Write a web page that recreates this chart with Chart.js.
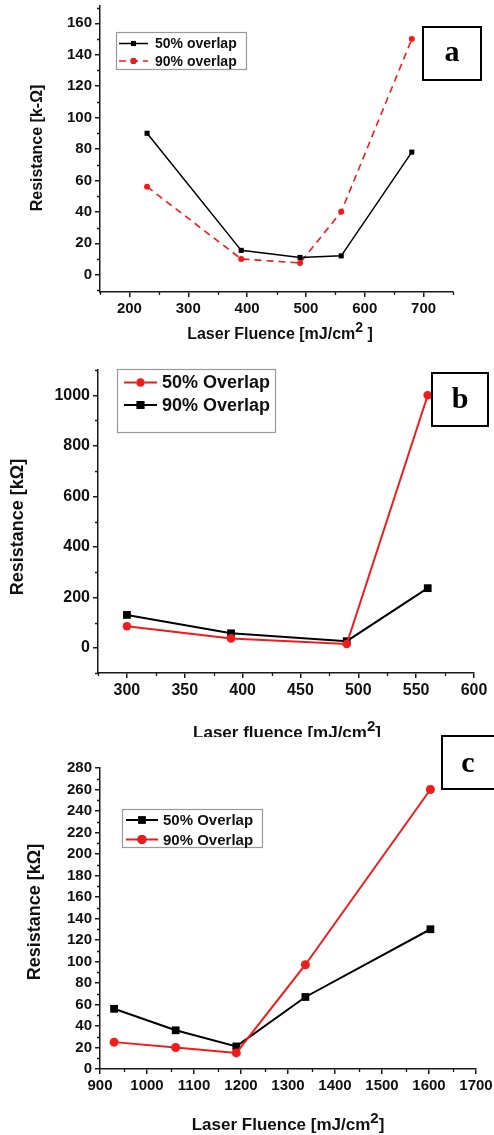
<!DOCTYPE html>
<html>
<head>
<meta charset="utf-8">
<script src="https://cdn.jsdelivr.net/npm/chart.js@4/dist/chart.umd.min.js"></script>
<style>
  html, body { margin: 0; padding: 0; background: #fff; }
  body { width: 494px; height: 1135px; position: relative; overflow: hidden; }
  .panel { position: absolute; left: 0; width: 494px; }
  .panel canvas { display: block; }
</style>
</head>
<body>
<div class="panel" id="pa" style="top:0;height:345px;"><canvas id="ca"></canvas></div>
<div class="panel" id="pb" style="top:345px;height:392px;"><canvas id="cb"></canvas></div>
<div class="panel" id="pc" style="top:733px;height:402px;"><canvas id="cc"></canvas></div>
<script>
// ---------- Panel a ----------
const fluenceA = [230, 390, 490, 560, 680];
const overlap50A = [90, 15.5, 11, 12, 78];
const overlap90A = [56, 10, 7.5, 40, 150];
const xTicksA = [200, 300, 400, 500, 600, 700];
const yTicksA = [0, 20, 40, 60, 80, 100, 120, 140, 160];

// ---------- Panel b ----------
const fluenceB = [300, 390, 490, 560];
const overlap50B = [85, 37, 15, 1000];
const overlap90B = [130, 57, 26, 236];
const xTicksB = [300, 350, 400, 450, 500, 550, 600];
const yTicksB = [0, 200, 400, 600, 800, 1000];

// ---------- Panel c ----------
const fluenceC = [930, 1061, 1190, 1337, 1603];
const overlap50C = [56, 36, 21, 67, 130];
const overlap90C = [25, 20, 15, 97, 260];
const xTicksC = [900, 1000, 1100, 1200, 1300, 1400, 1500, 1600, 1700];
const yTicksC = [0, 20, 40, 60, 80, 100, 120, 140, 160, 180, 200, 220, 240, 260, 280];

const SANS = '"Liberation Sans", Arial, sans-serif';
const SERIF = '"Liberation Serif", "Times New Roman", serif';
const AXIS = '#1a1a1a';

function pts(xs, ys) { return xs.map((x, i) => ({ x: x, y: ys[i] })); }

function minorValues(ticks, min, max) {
  const step = (ticks[1] - ticks[0]) / 2;
  const out = [];
  let v = ticks[0];
  while (v - step >= min - 1e-9) v -= step;
  for (; v <= max + 1e-9; v += step) {
    if (!ticks.some(t => Math.abs(t - v) < 1e-9)) out.push(v);
  }
  return out;
}

const deco = {
  id: 'deco',
  beforeDraw(chart, args, o) {
    const ctx = chart.ctx;
    ctx.save();
    ctx.fillStyle = '#fff';
    const top = o.bgTop || 0;
    ctx.fillRect(0, top, chart.width, chart.height - top);
    ctx.restore();
  },
  afterDraw(chart, args, o) {
    const ctx = chart.ctx;
    const xs = chart.scales.x, ys = chart.scales.y;
    ctx.save();
    // minor ticks
    ctx.strokeStyle = AXIS;
    ctx.lineWidth = 1.3;
    ctx.beginPath();
    minorValues(o.xTicks, xs.min, xs.max).forEach(v => {
      const px = Math.round(xs.getPixelForValue(v)) + 0.5;
      ctx.moveTo(px, chart.chartArea.bottom);
      ctx.lineTo(px, chart.chartArea.bottom + 3);
    });
    minorValues(o.yTicks, ys.min, ys.max).forEach(v => {
      const py = Math.round(ys.getPixelForValue(v)) + 0.5;
      ctx.moveTo(chart.chartArea.left, py);
      ctx.lineTo(chart.chartArea.left - 3, py);
    });
    ctx.stroke();

    ctx.fillStyle = '#111';
    // y title
    ctx.save();
    ctx.translate(o.yTitle.x, o.yTitle.y);
    ctx.rotate(-Math.PI / 2);
    ctx.font = 'bold ' + o.yTitle.size + 'px ' + SANS;
    ctx.textAlign = 'center';
    ctx.textBaseline = 'middle';
    ctx.fillText(o.yTitle.text, 0, 0);
    ctx.restore();

    // x title with superscript
    const t = o.xTitle;
    const f = 'bold ' + t.size + 'px ' + SANS;
    const fs = 'bold ' + Math.round(t.size * 0.9) + 'px ' + SANS;
    ctx.font = f;
    const w1 = ctx.measureText(t.pre).width;
    const w3 = ctx.measureText(t.post).width;
    ctx.font = fs;
    const w2 = ctx.measureText(t.sup).width;
    let x0 = t.cx - (w1 + w2 + w3) / 2;
    ctx.textAlign = 'left';
    ctx.textBaseline = 'alphabetic';
    ctx.font = f;
    ctx.fillText(t.pre, x0, t.baseline);
    ctx.font = fs;
    ctx.fillText(t.sup, x0 + w1, t.baseline - t.size * 0.42);
    ctx.font = f;
    ctx.fillText(t.post, x0 + w1 + w2, t.baseline);

    // letter box
    const L = o.letter;
    ctx.fillStyle = '#fff';
    ctx.fillRect(L.x, L.y, L.w, L.h);
    ctx.strokeStyle = '#000';
    ctx.lineWidth = 2;
    ctx.strokeRect(L.x, L.y, L.w, L.h);
    ctx.fillStyle = '#000';
    ctx.font = 'bold ' + L.size + 'px ' + SERIF;
    ctx.textAlign = 'center';
    ctx.textBaseline = 'middle';
    ctx.fillText(L.ch, L.cx, L.cy);

    // legend
    const G = o.legend;
    ctx.fillStyle = '#fff';
    ctx.fillRect(G.x, G.y, G.w, G.h);
    ctx.strokeStyle = '#9a9a9a';
    ctx.lineWidth = 1.2;
    ctx.strokeRect(G.x + 0.5, G.y + 0.5, G.w, G.h);
    chart.data.datasets.forEach((ds, i) => {
      const ry = G.rows[i];
      ctx.save();
      ctx.strokeStyle = ds.borderColor;
      ctx.lineWidth = ds.borderWidth;
      ctx.setLineDash(ds.borderDash || []);
      ctx.beginPath();
      ctx.moveTo(G.s0, ry);
      ctx.lineTo(G.s1, ry);
      ctx.stroke();
      ctx.setLineDash([]);
      Chart.helpers.drawPoint(ctx, {
        pointStyle: ds.pointStyle, rotation: 0, radius: ds.pointRadius, borderWidth: 0
      }, (G.s0 + G.s1) / 2, ry);
      ctx.fillStyle = ds.backgroundColor;
      ctx.fill();
      ctx.restore();
      ctx.fillStyle = '#111';
      ctx.font = 'bold ' + G.size + 'px ' + SANS;
      ctx.textAlign = 'left';
      ctx.textBaseline = 'middle';
      ctx.fillText(ds.label, G.tx, ry + 1);
    });
    ctx.restore();
  }
};

function axisOpts(min, max, ticks, fontSize, fitFn) {
  return {
    type: 'linear', min: min, max: max,
    afterBuildTicks: s => { s.ticks = ticks.map(v => ({ value: v })); },
    afterFit: fitFn,
    grid: { display: true, drawOnChartArea: false, drawTicks: true, tickLength: 5, color: AXIS, lineWidth: 1.5 },
    border: { display: true, color: AXIS, width: 1.5 },
    ticks: {
      autoSkip: false, maxRotation: 0, minRotation: 0, padding: 3, color: '#111',
      callback: v => String(v),
      font: { family: SANS, weight: 'bold', size: fontSize }
    }
  };
}

function makeChart(id, cfg) {
  return new Chart(document.getElementById(id), {
    type: 'line',
    data: { datasets: cfg.datasets },
    plugins: [deco],
    options: {
      responsive: true, maintainAspectRatio: false, animation: false,
      layout: { padding: { left: 0, top: cfg.top, right: cfg.right, bottom: 0 } },
      plugins: { legend: { display: false }, tooltip: { enabled: false }, deco: cfg.deco },
      scales: {
        x: axisOpts(cfg.xMin, cfg.xMax, cfg.xTicks, cfg.tickSize, s => {
          s.height = cfg.xH; s.paddingLeft = 0; s.paddingRight = 0;
        }),
        y: axisOpts(cfg.yMin, cfg.yMax, cfg.yTicks, cfg.tickSize, s => {
          s.width = cfg.yW; s.paddingTop = 0; s.paddingBottom = 0;
        })
      }
    }
  });
}

function ds(label, xs, ys, color, style, radius, width, dash, order) {
  return {
    label: label, data: pts(xs, ys), parsing: { xAxisKey: 'x', yAxisKey: 'y' },
    borderColor: color, backgroundColor: color, borderWidth: width,
    borderDash: dash || [], pointStyle: style, pointRadius: radius,
    pointBorderWidth: 0, pointBackgroundColor: color, tension: 0, fill: false, order: order
  };
}

const RED = '#f21b1b';
const BLACK = '#000';

// Panel a
makeChart('ca', {
  datasets: [
    ds('50% overlap', fluenceA, overlap50A, BLACK, 'rect', 3.6, 1.5, null, 0),
    ds('90% overlap', fluenceA, overlap90A, RED, 'circle', 3, 1.6, [7, 5], 1)
  ],
  top: 6, right: 41, xH: 53, yW: 100,
  xMin: 150, xMax: 750, yMin: -11, yMax: 171,
  xTicks: xTicksA, yTicks: yTicksA, tickSize: 15,
  deco: {
    xTicks: xTicksA, yTicks: yTicksA,
    yTitle: { text: 'Resistance [k-\u03A9]', x: 38, y: 148, size: 16 },
    xTitle: { pre: 'Laser Fluence [mJ/cm', sup: '2', post: ' ]', cx: 280, baseline: 339, size: 16 },
    letter: { ch: 'a', x: 423, y: 27, w: 58, h: 53, cx: 452, cy: 53, size: 30 },
    legend: { x: 116, y: 32, w: 130, h: 37, rows: [43.5, 61], s0: 119, s1: 148, tx: 155, size: 14 }
  }
});

// Panel b
makeChart('cb', {
  datasets: [
    ds('50% Overlap', fluenceB, overlap50B, RED, 'circle', 4.3, 2, null, 0),
    ds('90% Overlap', fluenceB, overlap90B, BLACK, 'rect', 5.5, 2, null, 1)
  ],
  top: 25, right: 20, xH: 64, yW: 98,
  xMin: 275, xMax: 600, yMin: -100, yMax: 1100,
  xTicks: xTicksB, yTicks: yTicksB, tickSize: 16,
  deco: {
    xTicks: xTicksB, yTicks: yTicksB,
    yTitle: { text: 'Resistance [k\u03A9]', x: 18, y: 182, size: 18 },
    xTitle: { pre: 'Laser fluence [mJ/cm', sup: '2', post: ']', cx: 287, baseline: 393, size: 17 },
    letter: { ch: 'b', x: 432, y: 28, w: 56, h: 53, cx: 460, cy: 55, size: 30 },
    legend: { x: 117, y: 24, w: 158, h: 63, rows: [37.5, 60], s0: 124, s1: 157, tx: 162, size: 18 }
  }
});

// Panel c (canvas starts at page y=733; white background from page y=737)
makeChart('cc', {
  datasets: [
    ds('50% Overlap', fluenceC, overlap50C, BLACK, 'rect', 5.5, 2, null, 1),
    ds('90% Overlap', fluenceC, overlap90C, RED, 'circle', 4.5, 2, null, 0)
  ],
  top: 35, right: 18, xH: 66, yW: 100,
  xMin: 900, xMax: 1700, yMin: 0, yMax: 280,
  xTicks: xTicksC, yTicks: yTicksC, tickSize: 15,
  deco: {
    bgTop: 4,
    xTicks: xTicksC, yTicks: yTicksC,
    yTitle: { text: 'Resistance [k\u03A9]', x: 35, y: 179, size: 18 },
    xTitle: { pre: 'Laser Fluence [mJ/cm', sup: '2', post: ']', cx: 288, baseline: 397, size: 17 },
    letter: { ch: 'c', x: 442, y: 3, w: 60, h: 53, cx: 468, cy: 31, size: 30 },
    legend: { x: 122, y: 76, w: 140, h: 38, rows: [87, 106.5], s0: 126, s1: 158, tx: 163, size: 15 }
  }
});
</script>
</body>
</html>
